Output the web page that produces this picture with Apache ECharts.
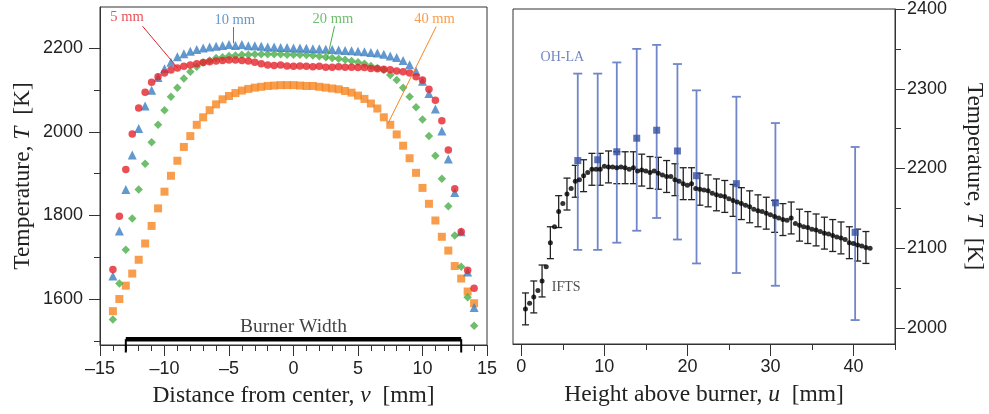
<!DOCTYPE html>
<html>
<head>
<meta charset="utf-8">
<script src="https://cdn.jsdelivr.net/npm/echarts@6/dist/echarts.min.js"></script>
<style>
html,body{margin:0;padding:0;background:#fff;}
#chart{width:989px;height:414px;}
</style>
</head>
<body>
<div id="chart"></div>
<script>
// ---------- Left panel data ----------
const vPositions = [-14,-13.5,-13,-12.5,-12,-11.5,-11,-10.5,-10,-9.5,-9,-8.5,-8,-7.5,-7,-6.5,-6,-5.5,-5,-4.5,-4,-3.5,-3,-2.5,-2,-1.5,-1,-0.5,0,0.5,1,1.5,2,2.5,3,3.5,4,4.5,5,5.5,6,6.5,7,7.5,8,8.5,9,9.5,10,10.5,11,11.5,12,12.5,13,13.5,14];
const temp5mm  = [1671,1798,1910,1995,2057,2095,2119,2132,2141,2148,2153,2157,2160,2163,2166,2168,2170,2171,2172,2172,2171,2170,2167,2163,2160,2159,2160,2158,2157,2158,2157,2156,2157,2155,2155,2156,2155,2155,2154,2154,2152,2151,2150,2149,2146,2144,2141,2132,2124,2102,2076,2027,1957,1864,1761,1669,1626];
const temp10mm = [1655,1763,1862,1945,2008,2062,2100,2130,2151,2167,2180,2187,2193,2197,2201,2203,2205,2207,2209,2207,2209,2206,2206,2205,2203,2203,2202,2202,2201,2201,2200,2199,2199,2198,2197,2196,2195,2194,2193,2192,2190,2189,2186,2182,2178,2171,2161,2145,2121,2092,2055,2002,1935,1855,1761,1665,1580];
const temp20mm = [1551,1637,1718,1793,1862,1924,1975,2017,2052,2084,2106,2128,2144,2156,2166,2171,2177,2179,2182,2183,2185,2185,2186,2186,2186,2186,2186,2185,2185,2185,2184,2183,2181,2179,2177,2175,2173,2170,2167,2163,2158,2153,2148,2136,2124,2106,2084,2059,2030,1990,1943,1888,1822,1752,1677,1604,1536];
const temp40mm = [1571,1600,1632,1661,1694,1733,1775,1817,1857,1895,1931,1964,1990,2017,2035,2052,2066,2078,2086,2093,2099,2103,2106,2108,2110,2111,2112,2112,2112,2111,2110,2110,2108,2106,2104,2102,2098,2094,2087,2079,2068,2056,2035,2017,1994,1967,1937,1902,1866,1828,1788,1749,1716,1679,1649,1618,1590];
const leftSeriesNames = ['5 mm','10 mm','20 mm','40 mm'];
const leftYMajor = [1600,1800,2000,2200];
const leftYMinor = [1500,1700,1900,2100];
const leftYRange = [1490,2299];
// annotation text anchors [v, T] and leader lines [[v1,T1],[v2,T2]]
const annotText = [[-12.9,2274],[-4.55,2268],[3.05,2270],[10.93,2270]];
const annotLines = [[[-11.7,2253],[-8.95,2152]],[[-4.65,2251],[-4.65,2212]],[[3.18,2253],[2.58,2172]],[[11.06,2252],[7.3,2019]]];
const burnerEdges = [-13,13];
const burnerLevel = 1504;
const burnerTickBottom = 1472;
const burnerLabelPos = [0,1534];
const burnerLabel = 'Burner Width';

// ---------- Right panel data ----------
const iftsU = [0.5,1,1.5,2,2.5,3,3.5,4,4.5,5,5.5,6,6.5,7,7.5,8,8.5,9,9.5,10,10.5,11,11.5,12,12.5,13,13.5,14,14.5,15,15.5,16,16.5,17,17.5,18,18.5,19,19.5,20,20.5,21,21.5,22,22.5,23,23.5,24,24.5,25,25.5,26,26.5,27,27.5,28,28.5,29,29.5,30,30.5,31,31.5,32,32.5,33,33.5,34,34.5,35,35.5,36,36.5,37,37.5,38,38.5,39,39.5,40,40.5,41,41.5,42];
const iftsT = [2024,2031,2039,2047,2059,2077,2107,2127,2146,2156,2168,2175,2184,2186,2191,2195,2199,2199,2199,2203,2202,2202,2201,2202,2201,2199,2201,2197,2198,2197,2195,2197,2194,2192,2190,2190,2186,2184,2181,2179,2181,2175,2174,2173,2172,2169,2167,2166,2165,2162,2160,2158,2156,2154,2152,2149,2147,2146,2144,2142,2140,2138,2136,2135,2138,2131,2129,2127,2126,2124,2123,2121,2119,2118,2116,2114,2113,2111,2107,2106,2104,2103,2101,2100];
const iftsErr = 20;
const ohU    = [6.8,9.2,11.5,13.9,16.3,18.8,21.1,25.9,30.6,40.2];
const ohT    = [2210,2211,2221,2238,2248,2222,2191,2181,2157,2120];
const ohLow  = [2098,2098,2107,2122,2138,2111,2081,2069,2053,2010];
const ohHigh = [2319,2319,2333,2350,2355,2331,2298,2290,2257,2227];
const rightXMajor = [0,10,20,30,40];
const rightXMinor = [5,15,25,35,45];
const rightXRange = [-1,45];
const rightYMajor = [2000,2100,2200,2300,2400];
const rightYMinor = [2050,2150,2250,2350];
const rightYRange = [1980,2400];
const ohLabelPos = [4.94,2339];
const iftsLabelPos = [5.4,2051];

// ---------- styling ----------
const SERIF = '"Liberation Serif", "Times New Roman", serif';
const SANS = '"Liberation Sans", Arial, sans-serif';
const colors = ['#e4232b','#3a7ec0','#4bae4a','#f6851f'];
const symbols = ['circle','triangle','diamond','rect'];
const symSizes = [7.5,9,8.5,8];
const AX = '#333';
const ohBar = '#7186c8';
const ohSq = '#3350a4';

const minusFmt = v => String(v).replace('-', '\u2013');
const plainFmt = v => String(v);

function axisTitleStyle(){
  return {fontFamily: SERIF, fontSize: 23.5, color:'#222',
    rich:{it:{fontFamily:SERIF, fontSize:23.5, fontStyle:'italic', color:'#222'}}};
}

const xAxes = [
  { gridIndex:0, type:'value', min:-15, max:15, interval:5,
    axisLine:{show:true, onZero:false, lineStyle:{color:AX, width:1}},
    axisTick:{show:true, inside:false, length:11, lineStyle:{color:AX}},
    minorTick:{show:true, splitNumber:5, length:6, lineStyle:{color:AX}},
    splitLine:{show:false},
    axisLabel:{margin:15, fontFamily:SANS, fontSize:18, color:'#222', formatter:minusFmt},
    name:'Distance from center, {it|v}  [mm]', nameLocation:'middle', nameGap:39,
    nameTextStyle:axisTitleStyle() },
  { gridIndex:1, type:'value', min:rightXRange[0], max:rightXRange[1], position:'bottom',
    axisLine:{show:true, onZero:false, lineStyle:{color:AX}},
    axisTick:{show:true, inside:false, length:12, customValues:rightXMajor, lineStyle:{color:AX}},
    axisLabel:{margin:14, fontFamily:SANS, fontSize:18, color:'#222', customValues:rightXMajor, formatter:plainFmt},
    splitLine:{show:false},
    name:'Height above burner, {it|u}  [mm]', nameLocation:'middle', nameGap:39,
    nameTextStyle:axisTitleStyle() },
  { gridIndex:1, type:'value', min:rightXRange[0], max:rightXRange[1], position:'bottom',
    axisLine:{show:false, onZero:false},
    axisTick:{show:true, inside:false, length:6, customValues:rightXMinor, lineStyle:{color:AX}},
    axisLabel:{show:false}, splitLine:{show:false} }
];

const yAxes = [
  { gridIndex:0, type:'value', min:leftYRange[0], max:leftYRange[1], position:'left',
    axisLine:{show:true, onZero:false, lineStyle:{color:AX}},
    axisTick:{show:true, inside:false, length:11, customValues:leftYMajor, lineStyle:{color:AX}},
    axisLabel:{margin:17, fontFamily:SANS, fontSize:18, color:'#222', customValues:leftYMajor, formatter:plainFmt},
    splitLine:{show:false},
    name:'Temperature, {it|T}  [K]', nameLocation:'middle', nameRotate:90, nameGap:65,
    nameTextStyle:axisTitleStyle() },
  { gridIndex:0, type:'value', min:leftYRange[0], max:leftYRange[1], position:'left',
    axisLine:{show:false, onZero:false},
    axisTick:{show:true, inside:false, length:6, customValues:leftYMinor, lineStyle:{color:AX}},
    axisLabel:{show:false}, splitLine:{show:false} },
  { gridIndex:1, type:'value', min:rightYRange[0], max:rightYRange[1], position:'right',
    axisLine:{show:true, onZero:false, lineStyle:{color:AX}},
    axisTick:{show:true, inside:false, length:10, customValues:rightYMajor, lineStyle:{color:AX}},
    axisLabel:{margin:12, fontFamily:SANS, fontSize:18, color:'#222', customValues:rightYMajor, formatter:plainFmt},
    splitLine:{show:false},
    name:'Temperature, {it|T}  [K]', nameLocation:'middle', nameRotate:-90, nameGap:67,
    nameTextStyle:axisTitleStyle() },
  { gridIndex:1, type:'value', min:rightYRange[0], max:rightYRange[1], position:'right',
    axisLine:{show:false, onZero:false},
    axisTick:{show:true, inside:false, length:6, customValues:rightYMinor, lineStyle:{color:AX}},
    axisLabel:{show:false}, splitLine:{show:false} }
];

const series = [];
const leftData = [temp5mm, temp10mm, temp20mm, temp40mm];
leftData.forEach((arr, i) => {
  series.push({
    type:'scatter', name:leftSeriesNames[i], xAxisIndex:0, yAxisIndex:0,
    symbol:symbols[i], symbolSize:symSizes[i],
    itemStyle:{color:colors[i]},
    data: vPositions.map((v, k) => [v, arr[k]]),
    z: 10 - i
  });
});
annotLines.forEach((ln, i) => {
  series.push({type:'line', xAxisIndex:0, yAxisIndex:0, data:ln, symbol:'none',
    lineStyle:{color:colors[i], width:1}, silent:true, z:12});
  series.push({type:'scatter', xAxisIndex:0, yAxisIndex:0, data:[annotText[i]],
    symbolSize:1, itemStyle:{color:'rgba(0,0,0,0)'}, silent:true, z:12,
    label:{show:true, position:'inside', formatter:leftSeriesNames[i],
      fontFamily:SERIF, fontSize:14.5, color:colors[i]}});
});
series.push({type:'line', xAxisIndex:0, yAxisIndex:0, symbol:'none', silent:true, z:15,
  data: burnerEdges.map(v => [v, burnerLevel]), lineStyle:{color:'#000', width:4.5}});
burnerEdges.forEach(v => {
  series.push({type:'line', xAxisIndex:0, yAxisIndex:0, symbol:'none', silent:true, clip:false, z:15,
    data:[[v, burnerTickBottom],[v, burnerLevel]], lineStyle:{color:'#000', width:2}});
});
series.push({type:'scatter', xAxisIndex:0, yAxisIndex:0, data:[burnerLabelPos], symbolSize:1,
  itemStyle:{color:'rgba(0,0,0,0)'}, silent:true,
  label:{show:true, position:'inside', formatter:burnerLabel, fontFamily:SERIF, fontSize:19.5, color:'#111'}});

function errRender(capHalf, color, width){
  return function(params, api){
    const x = api.value(0), lo = api.value(1), hi = api.value(2);
    const p1 = api.coord([x, lo]), p2 = api.coord([x, hi]);
    const st = {stroke:color, lineWidth:width};
    return {type:'group', children:[
      {type:'line', shape:{x1:p1[0], y1:p1[1], x2:p2[0], y2:p2[1]}, style:st},
      {type:'line', shape:{x1:p1[0]-capHalf, y1:p1[1], x2:p1[0]+capHalf, y2:p1[1]}, style:st},
      {type:'line', shape:{x1:p2[0]-capHalf, y1:p2[1], x2:p2[0]+capHalf, y2:p2[1]}, style:st}
    ]};
  };
}

const iftsBars = [];
iftsU.forEach((u, k) => { if (k % 2 === 0) iftsBars.push([u, iftsT[k]-iftsErr, iftsT[k]+iftsErr]); });
series.push({type:'custom', xAxisIndex:1, yAxisIndex:2, renderItem:errRender(3.5, '#222', 1.3),
  data:iftsBars, encode:{x:0, y:[1,2]}, silent:true, z:3});
series.push({type:'scatter', xAxisIndex:1, yAxisIndex:2, symbol:'circle', symbolSize:5,
  itemStyle:{color:'#000'}, data:iftsU.map((u,k)=>[u, iftsT[k]]), z:5});
series.push({type:'custom', xAxisIndex:1, yAxisIndex:2, renderItem:errRender(4.5, ohBar, 1.8),
  data:ohU.map((u,k)=>[u, ohLow[k], ohHigh[k]]), encode:{x:0, y:[1,2]}, silent:true, z:4});
series.push({type:'scatter', xAxisIndex:1, yAxisIndex:2, symbol:'rect', symbolSize:7,
  itemStyle:{color:ohSq}, data:ohU.map((u,k)=>[u, ohT[k]]), z:6});
series.push({type:'scatter', xAxisIndex:1, yAxisIndex:2, data:[ohLabelPos], symbolSize:1,
  itemStyle:{color:'rgba(0,0,0,0)'}, silent:true,
  label:{show:true, position:'inside', formatter:'OH-LA', fontFamily:SERIF, fontSize:14, color:'#4d66b2'}});
series.push({type:'scatter', xAxisIndex:1, yAxisIndex:2, data:[iftsLabelPos], symbolSize:1,
  itemStyle:{color:'rgba(0,0,0,0)'}, silent:true,
  label:{show:true, position:'inside', formatter:'IFTS', fontFamily:SERIF, fontSize:14, color:'#222'}});

const chart = echarts.init(document.getElementById('chart'), null, {renderer:'canvas'});
chart.setOption({
  animation:false,
  backgroundColor:'#fff',
  grid:[
    {left:100, top:7, width:387, height:338, show:true, borderColor:AX, borderWidth:1, backgroundColor:'transparent'},
    {left:513, top:9, width:382, height:335, show:true, borderColor:AX, borderWidth:1, backgroundColor:'transparent'}
  ],
  xAxis:xAxes,
  yAxis:yAxes,
  series:series
});
</script>
</body>
</html>
